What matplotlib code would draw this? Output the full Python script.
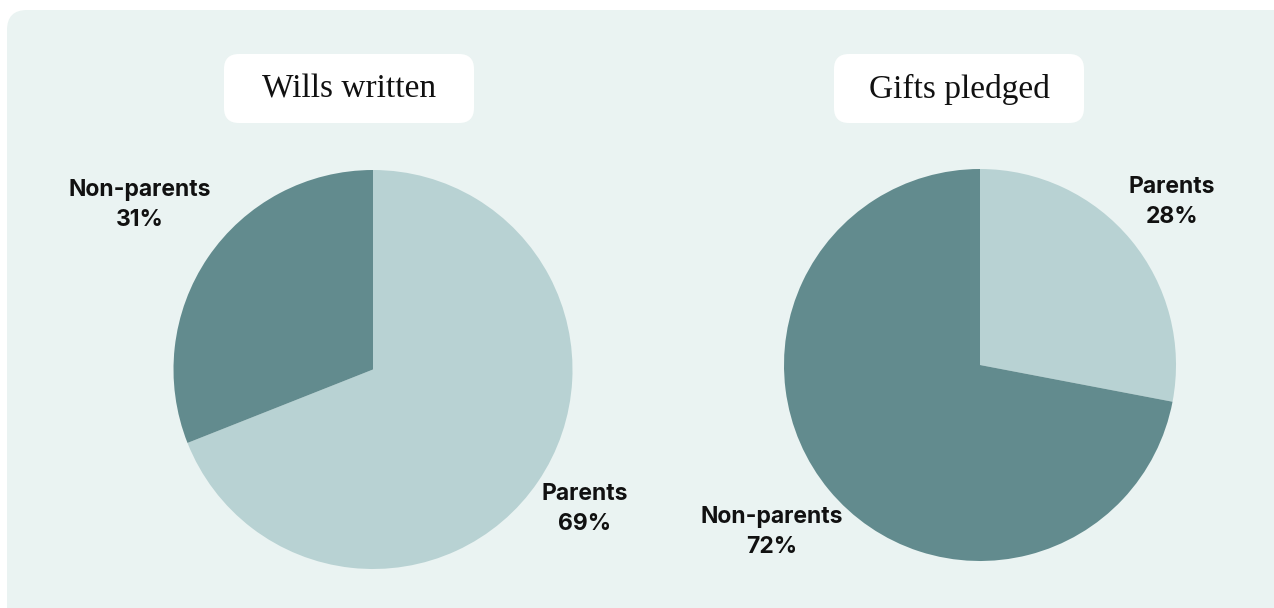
import matplotlib
matplotlib.use("Agg")
from matplotlib import pyplot as plt
from matplotlib.patches import FancyBboxPatch

# share of wills and gifts by parental status (%)
groups = ["Parents", "Non-parents"]
wills_written = [69, 31]
gifts_pledged = [28, 72]
titles = ["Wills written", "Gifts pledged"]

light = "#b8d2d3"
dark = "#628b8e"
panel = "#eaf3f2"

W, H = 1274, 608
fig = plt.figure(figsize=(W / 100, H / 100), dpi=100)
fig.patch.set_facecolor("white")

# background layer in pixel coordinates
bg = fig.add_axes([0, 0, 1, 1])
bg.set_xlim(0, W)
bg.set_ylim(H, 0)
bg.axis("off")
bg.add_patch(FancyBboxPatch((7, 10), W + 20, H + 20,
                            boxstyle="round,pad=0,rounding_size=20",
                            fc=panel, ec="none"))

def px_axes(left, top, right, bottom):
    return fig.add_axes([left / W, 1 - bottom / H, (right - left) / W, (bottom - top) / H])

def title_box(x0, y0, x1, y1, text):
    bg.add_patch(FancyBboxPatch((x0, y0), x1 - x0, y1 - y0,
                                boxstyle="round,pad=0,rounding_size=15",
                                fc="white", ec="none"))
    bg.text((x0 + x1) / 2, (y0 + y1) / 2 + 1, text, ha="center", va="center",
            fontsize=24, family="Liberation Serif", color="#111111")

def label(x, y, name, pct):
    bg.text(x, y, name, ha="center", va="center", fontsize=16.5,
            fontweight="bold", family="Inter", color="#111111")
    bg.text(x, y + 30, f"{pct}%", ha="center", va="center", fontsize=16.5,
            fontweight="bold", family="Inter", color="#111111")

# left pie
ax1 = px_axes(173, 170, 573, 569)
ax1.pie(wills_written, colors=[light, dark], startangle=90, counterclock=False,
        radius=1, wedgeprops=dict(linewidth=0))
ax1.set_xlim(-1, 1)
ax1.set_ylim(-1, 1)
ax1.set_aspect("equal")
ax1.axis("off")

# right pie
ax2 = px_axes(784, 169, 1176, 561)
ax2.pie(gifts_pledged, colors=[light, dark], startangle=90, counterclock=False,
        radius=1, wedgeprops=dict(linewidth=0))
ax2.set_xlim(-1, 1)
ax2.set_ylim(-1, 1)
ax2.set_aspect("equal")
ax2.axis("off")

title_box(224, 54, 474, 123, titles[0])
title_box(834, 54, 1084, 123, titles[1])

label(140, 190, groups[1], wills_written[1])
label(585, 494, groups[0], wills_written[0])
label(1172, 187, groups[0], gifts_pledged[0])
label(772, 517, groups[1], gifts_pledged[1])

fig.savefig("out.png", dpi=100)
